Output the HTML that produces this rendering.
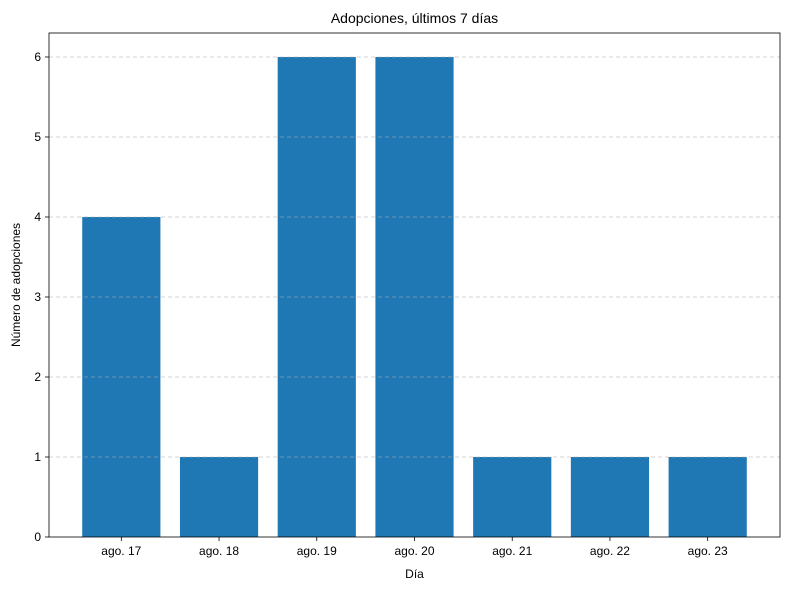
<!DOCTYPE html>
<html>
<head>
<meta charset="utf-8">
<style>
html,body{margin:0;padding:0;background:#fff;}
svg{display:block;font-family:"Liberation Sans","DejaVu Sans",sans-serif;}
</style>
</head>
<body>
<svg id="chart" width="790" height="590" xmlns="http://www.w3.org/2000/svg">
<rect width="790" height="590" fill="#fff"/>
<g id="bars"></g>
<g id="grid"></g>
<g id="axes"></g>
<text x="414.5" y="23" font-size="14" text-anchor="middle" fill="#000">Adopciones, últimos 7 días</text>
<text x="414.5" y="578" font-size="12" text-anchor="middle" fill="#000">Día</text>
<text transform="translate(20,285) rotate(-90)" font-size="12" text-anchor="middle" fill="#000">Número de adopciones</text>
</svg>
<script>
const categories = ["ago. 17","ago. 18","ago. 19","ago. 20","ago. 21","ago. 22","ago. 23"];
const values = [4,1,6,6,1,1,1];
const yTicks = [0,1,2,3,4,5,6];

const NS="http://www.w3.org/2000/svg";
const L=49,R=780,T=33,B=537;
const xMin=-0.74,xMax=6.74,yMin=0,yMax=6.3;
function xS(v){return L+(v-xMin)/(xMax-xMin)*(R-L);}
function yS(v){return B-(v-yMin)/(yMax-yMin)*(B-T);}
function mk(tag,attrs,parent){const e=document.createElementNS(NS,tag);for(const k in attrs)e.setAttribute(k,attrs[k]);parent.appendChild(e);return e;}

const grid=document.getElementById('grid'),bars=document.getElementById('bars'),axes=document.getElementById('axes');
yTicks.forEach(t=>{
  if(t>0){
    const g=mk('line',{x1:L,x2:R,y1:yS(t),y2:yS(t),stroke:'#b0b0b0','stroke-width':0.8,'stroke-dasharray':'4,3',opacity:0.7},grid);
    
    
  }
  const tk=mk('line',{x1:L-4,x2:L,y1:yS(t),y2:yS(t),stroke:'#000','stroke-width':0.8},axes);
  
  
  const lb=mk('text',{x:L-8,y:yS(t)+4,'font-size':12,'text-anchor':'end',fill:'#000'},axes);
  lb.textContent=t;
  
  
});
categories.forEach((c,i)=>{
  const x0=xS(i-0.4),x1=xS(i+0.4);
  const b=mk('rect',{x:x0,y:yS(values[i]),width:x1-x0,height:yS(0)-yS(values[i]),fill:'#1f77b4'},bars);
  
  
  const tk=mk('line',{x1:xS(i),x2:xS(i),y1:B,y2:B+4,stroke:'#000','stroke-width':0.8},axes);
  
  
  const lb=mk('text',{x:xS(i),y:B+18,'font-size':12,'text-anchor':'middle',fill:'#000'},axes);
  lb.textContent=c;
  
  
});
const frame=mk('rect',{x:L,y:T,width:R-L,height:B-T,fill:'none',stroke:'#000','stroke-width':0.8},axes);


</script>
</body>
</html>
